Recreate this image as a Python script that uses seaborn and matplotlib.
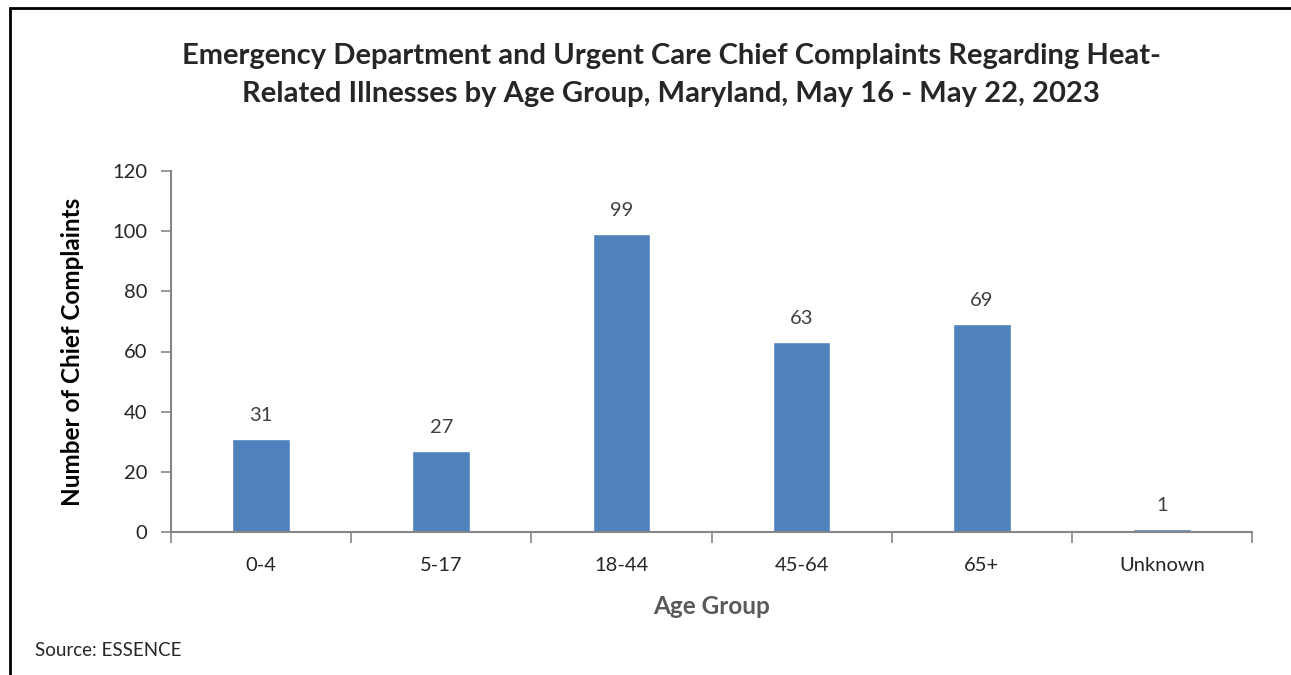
import numpy as np
import pandas as pd
import matplotlib
matplotlib.use('Agg')
import matplotlib.pyplot as plt
import seaborn as sns
from matplotlib.patches import Rectangle

# data
age_groups = ['0-4', '5-17', '18-44', '45-64', '65+', 'Unknown']
complaints = [31, 27, 99, 63, 69, 1]
y_ticks = [0, 20, 40, 60, 80, 100, 120]

df = pd.DataFrame({'Age Group': age_groups, 'Complaints': complaints})

sns.set_style('white')
plt.rcParams['font.family'] = ['Lato', 'DejaVu Sans']

fig = plt.figure(figsize=(12.91, 6.75), dpi=100)
ax = fig.add_axes([171/1291, 1 - 532/675, (1252 - 171)/1291, (532 - 171)/675])

sns.barplot(data=df, x='Age Group', y='Complaints', color='#4F81BD',
            width=0.32, saturation=1, ax=ax)

for i, v in enumerate(complaints):
    ax.text(i, v + 5, str(v), ha='center', va='bottom', fontsize=14.5, color='#404040')

ax.set_xlim(-0.5, len(age_groups) - 0.5)
ax.set_ylim(0, 120)
ax.set_yticks(y_ticks)
ax.tick_params(axis='y', labelsize=14.5, length=7, width=1.2, color='#868686', left=True, pad=10)
ax.set_xticks(np.arange(len(age_groups) + 1) - 0.5, minor=True)
ax.tick_params(axis='x', which='minor', length=8, width=1.2, color='#868686', bottom=True)
ax.tick_params(axis='x', which='major', length=0, labelsize=14.5, pad=18)

for s in ['top', 'right']:
    ax.spines[s].set_visible(False)
for s in ['left', 'bottom']:
    ax.spines[s].set_color('#868686')
    ax.spines[s].set_linewidth(1.5)

ax.set_xlabel('Age Group', fontsize=17.5, fontweight='bold', color='#595959', labelpad=15)
ax.set_ylabel('Number of Chief Complaints', fontsize=17.5, fontweight='bold', color='black', labelpad=20)

fig.text(671/1291, 1 - 75/675,
         'Emergency Department and Urgent Care Chief Complaints Regarding Heat-\n'
         'Related Illnesses by Age Group, Maryland, May 16 - May 22, 2023',
         ha='center', va='center', fontsize=21, fontweight='bold', linespacing=1.6)

fig.text(35/1291, 1 - 651/675, 'Source: ESSENCE', ha='left', va='center', fontsize=13.5)

# outer frame (cut off at right and bottom like the original)
fig.add_artist(Rectangle((10/1291, -0.05), 1.1, 1.05 - 8/675, transform=fig.transFigure,
                         fill=False, edgecolor='black', linewidth=2))

fig.savefig('out.png', dpi=100)
